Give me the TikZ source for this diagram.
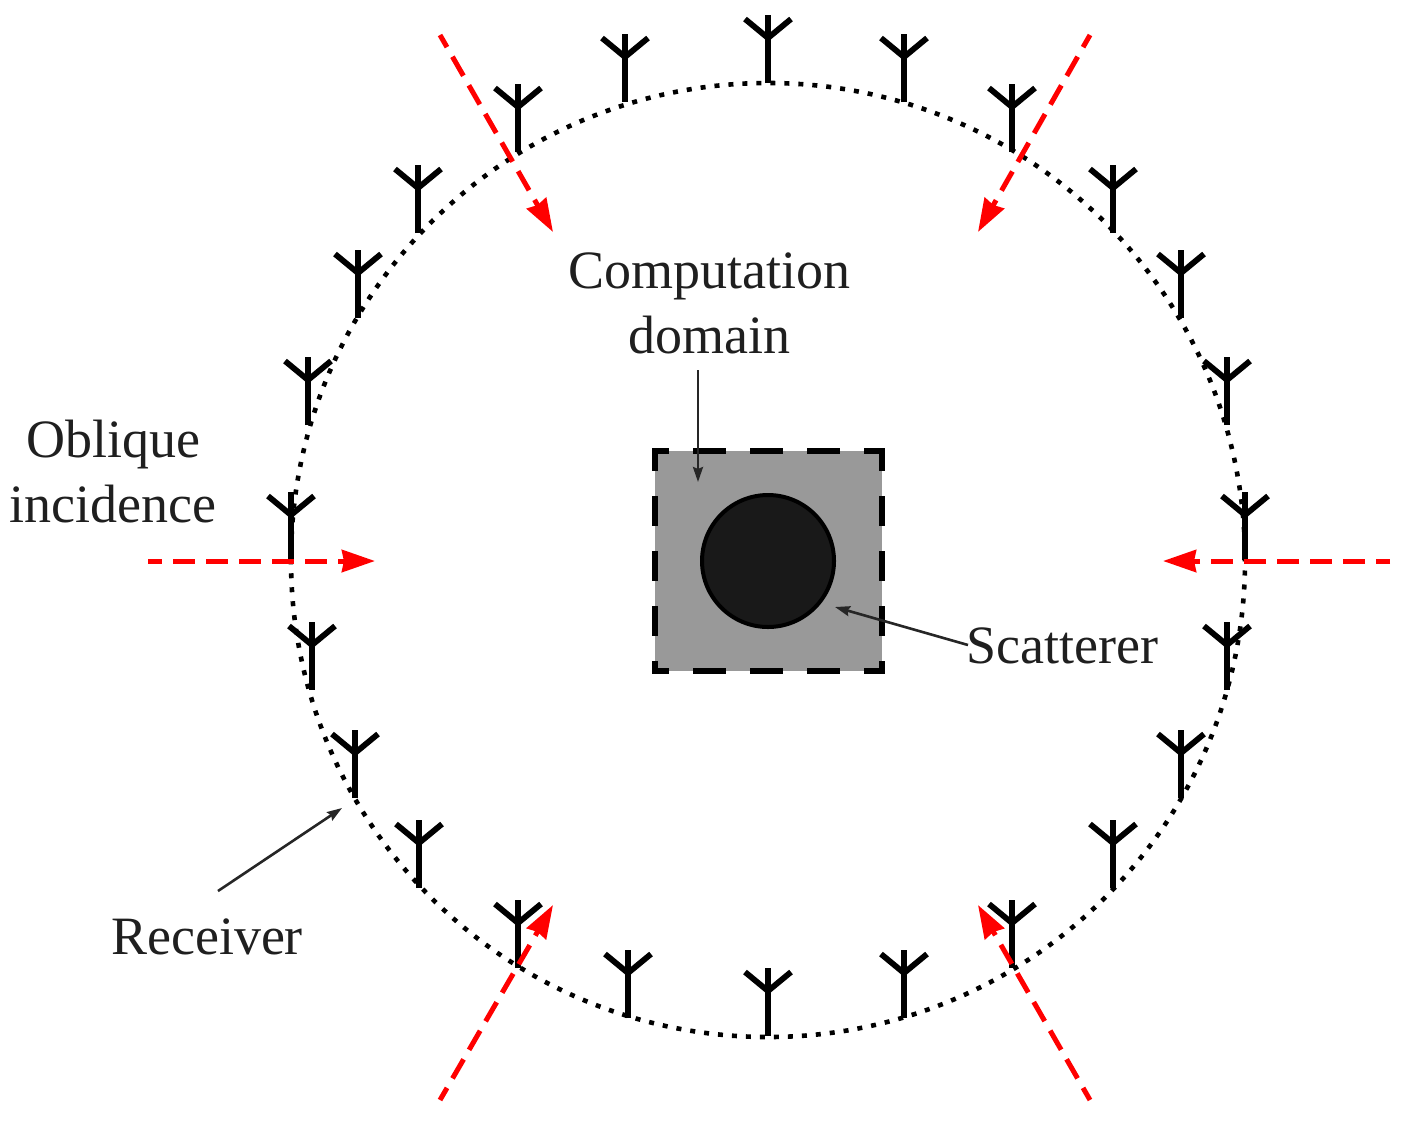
\documentclass[tikz,border=0pt]{standalone}
\usepackage{fontspec}
\setmainfont{Liberation Serif}
\usetikzlibrary{arrows.meta}
\tikzset{
  x=1pt,y=-1pt,
  antenna/.style={draw=black,line width=5.8pt,line join=miter},
  ring/.style={draw=black,line width=4.6pt,dash pattern=on 5pt off 9pt},
  redray/.style={draw=red,line width=5pt,dash pattern=on 22pt off 11pt,dash phase=8pt,-{Stealth[length=33pt,width=22pt,inset=2pt]}},
  sqside/.style={draw=black,line width=6pt,line cap=butt},
  label/.style={font=\fontsize{54}{60}\selectfont,text=black!88,inner sep=0pt,anchor=center},
  pointer/.style={draw=black!85,line width=2.6pt,-{Stealth[length=15pt,width=10pt,inset=2pt]}}
}
\begin{document}
\begin{tikzpicture}
\useasboundingbox (0,0) rectangle (1404,1125);
% domain
\coordinate (tl) at (655,451);
\coordinate (tr) at (882,451);
\coordinate (br) at (882,671);
\coordinate (bl) at (655,671);
\fill[black!40] (tl) rectangle (br);
\draw[sqside,dash pattern=on 33pt off 24pt,dash phase=16pt] ([xshift=-3pt]tl) -- ([xshift=3pt]tr);
\draw[sqside,dash pattern=on 33pt off 24pt,dash phase=16pt] ([xshift=-3pt]bl) -- ([xshift=3pt]br);
\draw[sqside,dash pattern=on 30pt off 25pt,dash phase=13pt] ([yshift=-3pt]tl) -- ([yshift=3pt]bl);
\draw[sqside,dash pattern=on 30pt off 25pt,dash phase=13pt] ([yshift=-3pt]tr) -- ([yshift=3pt]br);
\node[circle,draw=black,line width=4pt,fill=black!90,minimum size=132pt,inner sep=0pt] (scatterer) at (768,561) {};
% ring
\coordinate (centre) at (768,560);
\draw[ring] (centre) circle[radius=477pt];
% receivers
\foreach \px/\py [count=\i] in {768/83,625/102,904/102,518/152,1012/152,418/233,1113/233,358/318,1181/318,308/425,1227/425,291/560,1245/560,312/690,1227/690,355/798,1181/798,419/888,1113/888,518/968,1012/968,628/1018,904/1018,768/1036}{
  \coordinate (foot\i) at (\px,\py);
  \draw[antenna] (foot\i) -- ++(0,-68);
  \draw[antenna] ([shift={(-23,-64)}]foot\i) -- ([shift={(0,-45)}]foot\i) -- ([shift={(23,-64)}]foot\i);
}
% incidence rays
\coordinate (s1) at (440,35);   \coordinate (e1) at (553,232);
\coordinate (s2) at (1090,35);  \coordinate (e2) at (978,232);
\coordinate (s3) at (148,561);  \coordinate (e3) at (375,561);
\coordinate (s4) at (1390,561); \coordinate (e4) at (1163,561);
\coordinate (s5) at (440,1100); \coordinate (e5) at (553,905);
\coordinate (s6) at (1090,1100);\coordinate (e6) at (978,905);
\draw[redray] (s1) -- (e1);
\draw[redray] (s2) -- (e2);
\draw[redray] (s3) -- (e3);
\draw[redray] (s4) -- (e4);
\draw[redray] (s5) -- (e5);
\draw[redray] (s6) -- (e6);
% labels
\node[label] (comp) at (709,276) {Computation};
\node[label] (dom) at (709,335) {domain};
\node[label] (obl) at (113,445) {Oblique};
\node[label] (inc) at (113,504) {incidence};
\node[label] (rcv) at (207,937) {Receiver};
\node[label] (sct) at (1062,646) {Scatterer};
\coordinate (domstart) at (698,370);
\coordinate (domtip) at (698,482);
\coordinate (sctstart) at (968,645);
\coordinate (scttip) at (835,607);
\coordinate (rcvstart) at (218,891);
\coordinate (rcvtip) at (342,808);
\draw[pointer] (domstart) -- (domtip);
\draw[pointer] (sctstart) -- (scttip);
\draw[pointer] (rcvstart) -- (rcvtip);
\end{tikzpicture}
\end{document}
